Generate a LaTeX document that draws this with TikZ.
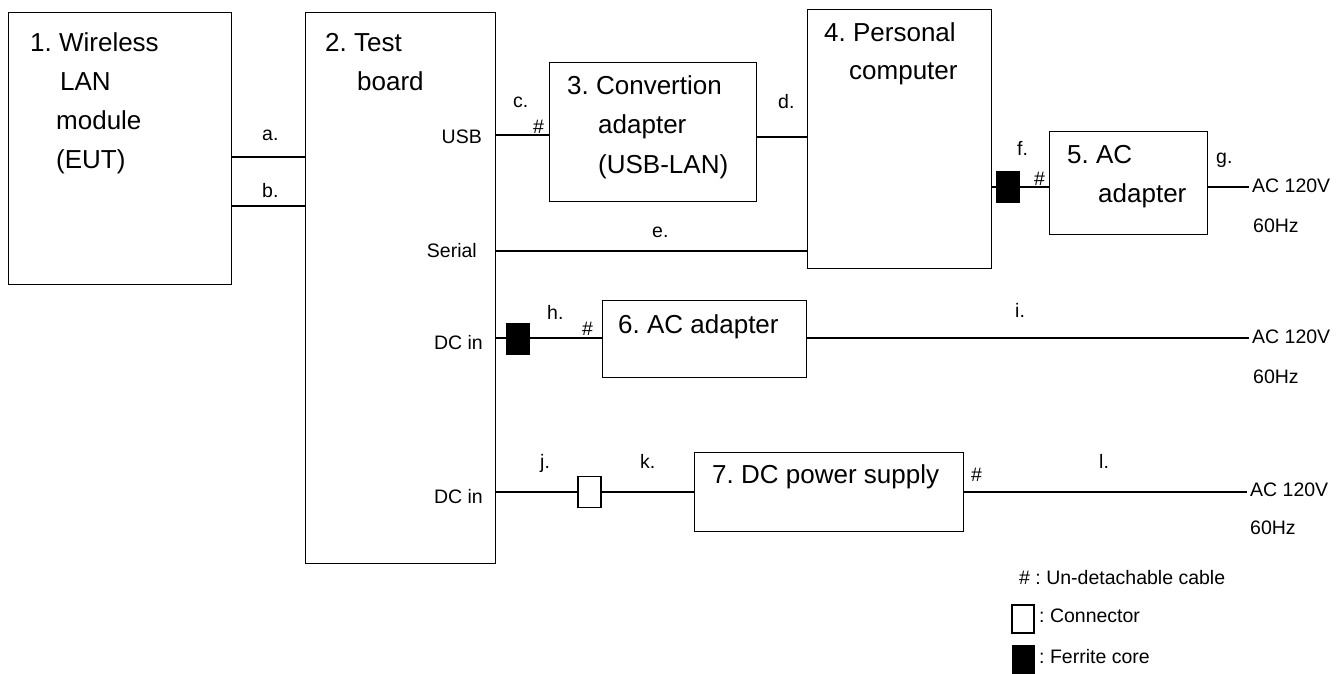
\documentclass[tikz,border=0pt]{standalone}
\usepackage{fontspec}
\setmainfont{Liberation Sans}
\frenchspacing
\begin{document}
\begin{tikzpicture}[x=1pt,y=-1pt,
  box/.style={draw, line width=1.3pt, inner sep=0pt, anchor=north west},
  wire/.style={line width=1.6pt},
  big/.style={anchor=base west, inner sep=0pt, font=\fontsize{26}{30}\selectfont},
  lbl/.style={anchor=base west, inner sep=0pt, font=\fontsize{19.5}{23}\selectfont},
  lble/.style={anchor=base east, inner sep=0pt, font=\fontsize{19.5}{23}\selectfont},
  ferrite/.style={draw, fill=black, line width=0.8pt, minimum width=23pt, minimum height=31pt, inner sep=0pt},
  conn/.style={draw, fill=white, line width=1.2pt, minimum width=23pt, minimum height=31pt, inner sep=0pt}]
\useasboundingbox (0,0) rectangle (1338,674);

% boxes
\node[box, minimum width=223pt, minimum height=272pt] (b1) at (8,12) {};
\node[box, minimum width=190pt, minimum height=551pt] (b2) at (305,12) {};
\node[box, minimum width=207pt, minimum height=139pt] (b3) at (549,62) {};
\node[box, minimum width=184pt, minimum height=259pt] (b4) at (807,9) {};
\node[box, minimum width=158pt, minimum height=103pt] (b5) at (1049,131) {};
\node[box, minimum width=204pt, minimum height=77pt] (b6) at (602,300) {};
\node[box, minimum width=269pt, minimum height=79pt] (b7) at (694,452) {};

% levels and free ends
\coordinate (ya) at (0,157);
\coordinate (yb) at (0,206);
\coordinate (yc) at (0,135);
\coordinate (yd) at (0,137);
\coordinate (ye) at (0,251);
\coordinate (yf) at (0,187);
\coordinate (yh) at (0,338);
\coordinate (yj) at (0,492);
\coordinate (acg) at (1249,187);
\coordinate (aci) at (1249,338);
\coordinate (acl) at (1247,492);

% wires
\draw[wire] (b1.east |- ya) -- (b2.west |- ya);
\draw[wire] (b1.east |- yb) -- (b2.west |- yb);
\draw[wire] (b2.east |- yc) -- (b3.west |- yc);
\draw[wire] (b3.east |- yd) -- (b4.west |- yd);
\draw[wire] (b2.east |- ye) -- (b4.west |- ye);
\draw[wire] (b4.east |- yf) -- (b5.west |- yf);
\draw[wire] (b5.east |- yf) -- (acg);
\draw[wire] (b2.east |- yh) -- (b6.west |- yh);
\draw[wire] (b6.east |- yh) -- (aci);
\node[conn] (cn1) at (589.5,492) {};
\draw[wire] (b2.east |- yj) -- (cn1.west |- yj);
\draw[wire] (cn1.east |- yj) -- (b7.west |- yj);
\draw[wire] (b7.east |- yj) -- (acl);

% ferrite cores
\node[ferrite] (fc1) at (1007.5,186.5) {};
\node[ferrite] (fc2) at (517.5,339) {};

% box texts
\node[big] (t1a) at (30,52) {1. Wireless};
\node[big] (t1b) at (60,91) {LAN};
\node[big] (t1c) at (56,130) {module};
\node[big] (t1d) at (56,168) {(EUT)};
\node[big] (t2a) at (325,52) {2. Test};
\node[big] (t2b) at (357,91) {board};
\node[big] (t3a) at (567,95) {3. Convertion};
\node[big] (t3b) at (598,134) {adapter};
\node[big] (t3c) at (598,173) {(USB-LAN)};
\node[big] (t4a) at (824,42) {4. Personal};
\node[big] (t4b) at (849,80) {computer};
\node[big] (t5a) at (1067,163) {5. AC};
\node[big] (t5b) at (1098,202) {adapter};
\node[big] (t6) at (618,333) {6. AC adapter};
\node[big] (t7) at (712,483) {7. DC power supply};

% port labels
\node[lble] (pusb) at (482,143) {USB};
\node[lble] (pser) at (477,257) {Serial};
\node[lble] (pdc1) at (483,349) {DC in};
\node[lble] (pdc2) at (483,503) {DC in};

% cable labels
\node[lbl] (la) at (262,140) {a.};
\node[lbl] (lb) at (262,197) {b.};
\node[lbl] (lc) at (513,108) {c.};
\node[lbl] (hc) at (533,133) {\#};
\node[lbl] (ld) at (778,109) {d.};
\node[lbl] (le) at (652,237) {e.};
\node[lbl] (lf) at (1017,155) {f.};
\node[lbl] (hf) at (1034,185) {\#};
\node[lbl] (lg) at (1216,163) {g.};
\node[lbl] (lh) at (547,319) {h.};
\node[lbl] (hh) at (582,335) {\#};
\node[lbl] (li) at (1015,317) {i.};
\node[lbl] (lj) at (540,468) {j.};
\node[lbl] (lk) at (640,468) {k.};
\node[lbl] (hl) at (971,481) {\#};
\node[lbl] (ll) at (1099,468) {l.};

% mains
\node[lbl] (m1a) at (1252,192) {AC 120V};
\node[lbl] (m1b) at (1253,232) {60Hz};
\node[lbl] (m2a) at (1252,343) {AC 120V};
\node[lbl] (m2b) at (1253,383) {60Hz};
\node[lbl] (m3a) at (1250,496) {AC 120V};
\node[lbl] (m3b) at (1250,534) {60Hz};

% legend
\node[lbl] (lg1) at (1019,584) {\# : Un-detachable cable};
\node[conn, minimum width=22pt, minimum height=28pt] (cnL) at (1023,619) {};
\node[lbl] (lg2) at (1039,622) {: Connector};
\node[ferrite, minimum width=22pt, minimum height=28pt] (fcL) at (1023,659) {};
\node[lbl] (lg3) at (1039,663) {: Ferrite core};
\end{tikzpicture}
\end{document}
